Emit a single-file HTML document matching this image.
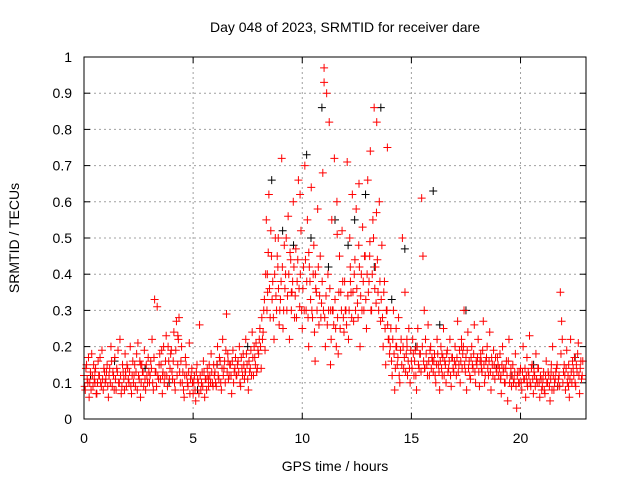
<!DOCTYPE html>
<html><head><meta charset="utf-8">
<style>
html,body{margin:0;padding:0;background:#fff;}
svg{display:block;font-family:"Liberation Sans",sans-serif;}
</style></head>
<body>
<svg id="chart" width="640" height="480" viewBox="0 0 640 480">
<text x="345" y="32" font-size="14" text-anchor="middle">Day 048 of 2023, SRMTID for receiver dare</text>
<text x="335" y="471" font-size="14" text-anchor="middle">GPS time / hours</text>
<text x="19" y="238" font-size="14" text-anchor="middle" transform="rotate(-90 19 238)">SRMTID / TECUs</text>
<g id="grid"></g>
<g id="ticks"></g>
<g id="black"></g>
<g id="red"></g>
<rect x="84" y="57" width="502" height="362" fill="none" stroke="#000" stroke-width="1"/>
</svg>
<script>
const xTicks=[0,5,10,15,20];
const yTicks=[0,0.1,0.2,0.3,0.4,0.5,0.6,0.7,0.8,0.9,1];
const yTickLabels=["0","0.1","0.2","0.3","0.4","0.5","0.6","0.7","0.8","0.9","1"];
const redStep=1/17;
const redValues=[
0.12,0.08,0.15,0.1,0.06,0.13,0.18,0.09,0.11,0.14,0.07,0.16,0.12,0.1,0.19,0.08,0.13,
0.11,0.15,0.06,0.14,0.2,0.09,0.12,0.17,0.08,0.13,0.1,0.22,0.07,0.15,0.11,0.18,0.09,
0.14,0.1,0.2,0.07,0.16,0.12,0.09,0.18,0.21,0.11,0.06,0.15,0.13,0.19,0.08,0.12,0.17,
0.1,0.16,0.22,0.08,0.33,0.13,0.31,0.11,0.18,0.15,0.07,0.2,0.12,0.23,0.09,0.16,0.14,
0.19,0.11,0.24,0.08,0.27,0.15,0.28,0.1,0.2,0.13,0.06,0.17,0.12,0.09,0.21,0.11,0.14,
0.07,0.12,0.05,0.15,0.1,0.26,0.08,0.13,0.16,0.06,0.11,0.14,0.09,0.12,0.18,0.1,0.15,
0.13,0.09,0.2,0.11,0.16,0.08,0.22,0.14,0.1,0.29,0.18,0.12,0.15,0.07,0.19,0.13,0.17,
0.12,0.16,0.2,0.09,0.14,0.18,0.11,0.22,0.15,0.08,0.13,0.19,0.24,0.12,0.17,0.21,0.14,
0.18,0.25,0.14,0.22,0.3,0.19,0.55,0.35,0.62,0.28,0.45,0.38,0.22,0.5,0.3,0.42,0.26,
0.33,0.72,0.25,0.48,0.4,0.3,0.56,0.22,0.44,0.35,0.6,0.28,0.47,0.38,0.66,0.31,0.52,
0.25,0.42,0.7,0.3,0.55,0.2,0.38,0.64,0.28,0.48,0.16,0.35,0.58,0.26,0.45,0.32,0.68,
0.97,0.2,0.9,0.4,0.82,0.15,0.55,0.3,0.72,0.25,0.6,0.18,0.45,0.35,0.52,0.28,0.38,
0.3,0.71,0.22,0.5,0.35,0.62,0.27,0.44,0.58,0.32,0.48,0.2,0.4,0.53,0.3,0.45,0.25,
0.66,0.38,0.74,0.3,0.55,0.86,0.42,0.82,0.35,0.6,0.27,0.48,0.2,0.38,0.15,0.3,0.22,
0.18,0.25,0.12,0.3,0.08,0.2,0.15,0.28,0.1,0.22,0.5,0.14,0.35,0.18,0.12,0.25,0.1,
0.16,0.22,0.12,0.19,0.08,0.25,0.14,0.18,0.61,0.45,0.3,0.22,0.15,0.26,0.12,0.2,0.17,
0.13,0.18,0.1,0.22,0.15,0.08,0.2,0.12,0.25,0.16,0.1,0.19,0.14,0.22,0.09,0.17,0.13,
0.2,0.12,0.27,0.15,0.1,0.22,0.18,0.3,0.13,0.08,0.24,0.16,0.11,0.2,0.14,0.26,0.1,
0.15,0.22,0.09,0.18,0.13,0.27,0.1,0.16,0.2,0.12,0.24,0.08,0.15,0.19,0.11,0.14,0.17,
0.12,0.18,0.07,0.2,0.14,0.1,0.16,0.05,0.22,0.12,0.09,0.15,0.11,0.18,0.03,0.13,0.1,
0.14,0.08,0.2,0.11,0.06,0.17,0.13,0.23,0.09,0.15,0.07,0.12,0.18,0.1,0.14,0.06,0.11,
0.09,0.13,0.07,0.16,0.1,0.12,0.05,0.15,0.2,0.08,0.11,0.14,0.09,0.12,0.35,0.27,0.1,
0.15,0.08,0.19,0.12,0.06,0.22,0.1,0.14,0.17,0.09,0.13,0.21,0.07,0.16,0.12];
const redValues2=[
0.09,0.14,0.11,0.17,0.1,0.08,0.12,0.15,0.13,0.07,0.1,0.12,0.17,0.09,0.11,0.14,0.1,
0.13,0.09,0.12,0.1,0.16,0.13,0.08,0.11,0.14,0.19,0.1,0.12,0.09,0.13,0.08,0.12,0.15,
0.11,0.13,0.09,0.12,0.1,0.15,0.13,0.08,0.12,0.16,0.1,0.13,0.09,0.11,0.15,0.1,0.13,
0.12,0.14,0.1,0.17,0.13,0.09,0.12,0.15,0.11,0.19,0.13,0.1,0.16,0.12,0.2,0.11,0.18,
0.13,0.16,0.1,0.19,0.12,0.22,0.13,0.16,0.1,0.08,0.12,0.15,0.1,0.13,0.07,0.12,0.1,
0.1,0.08,0.13,0.11,0.07,0.12,0.1,0.09,0.13,0.11,0.08,0.12,0.15,0.1,0.13,0.09,0.12,
0.1,0.15,0.12,0.17,0.1,0.14,0.12,0.16,0.19,0.13,0.11,0.15,0.12,0.16,0.1,0.14,0.12,
0.15,0.13,0.1,0.17,0.12,0.15,0.13,0.18,0.11,0.16,0.14,0.12,0.17,0.2,0.15,0.13,0.19,
0.22,0.2,0.28,0.24,0.33,0.4,0.3,0.46,0.36,0.52,0.33,0.28,0.4,0.34,0.45,0.36,0.3,
0.38,0.42,0.3,0.36,0.5,0.34,0.4,0.46,0.3,0.38,0.42,0.34,0.28,0.44,0.36,0.4,0.3,
0.36,0.3,0.44,0.38,0.28,0.42,0.33,0.3,0.4,0.24,0.36,0.3,0.42,0.34,0.28,0.38,0.3,
0.28,0.34,0.26,0.3,0.36,0.22,0.3,0.26,0.33,0.2,0.28,0.35,0.25,0.3,0.38,0.24,0.3,
0.26,0.34,0.3,0.38,0.28,0.35,0.4,0.3,0.36,0.28,0.42,0.34,0.3,0.38,0.45,0.33,0.4,
0.35,0.45,0.3,0.4,0.5,0.36,0.32,0.44,0.3,0.38,0.33,0.28,0.35,0.25,0.3,0.26,0.22,
0.2,0.16,0.22,0.18,0.14,0.2,0.17,0.12,0.19,0.15,0.2,0.17,0.13,0.22,0.16,0.14,0.19,
0.14,0.18,0.16,0.12,0.2,0.15,0.18,0.13,0.2,0.16,0.14,0.18,0.12,0.16,0.19,0.14,0.16,
0.16,0.12,0.15,0.18,0.13,0.16,0.14,0.17,0.12,0.15,0.18,0.13,0.16,0.12,0.17,0.14,0.16,
0.15,0.17,0.13,0.19,0.16,0.14,0.2,0.15,0.17,0.19,0.14,0.12,0.17,0.15,0.18,0.13,0.16,
0.17,0.13,0.16,0.14,0.19,0.15,0.12,0.17,0.14,0.16,0.13,0.17,0.12,0.15,0.17,0.13,0.15,
0.14,0.11,0.15,0.13,0.1,0.14,0.12,0.16,0.1,0.14,0.12,0.1,0.13,0.09,0.12,0.1,0.13,
0.1,0.13,0.11,0.14,0.12,0.09,0.12,0.1,0.14,0.11,0.13,0.09,0.11,0.14,0.1,0.12,0.08,
0.11,0.08,0.12,0.1,0.13,0.09,0.11,0.08,0.12,0.1,0.13,0.15,0.11,0.09,0.18,0.22,0.13,
0.12,0.14,0.1,0.15,0.11,0.13,0.16,0.12,0.1,0.15,0.18,0.12,0.14,0.11,0.16];
const redExtraTimes=[0.5,1.9,2.6,3.6,4.3,5.7,6.6,7.4,8.4,8.9,9.5,9.9,10.3,10.6,11.0,11.3,11.6,12.2,12.6,13.1,13.4,13.9,14.3,14.8,15.6,16.4,17.3,18.2,19.1,20.3,21.4,22.2];
const redExtraValues=[0.1,0.13,0.15,0.12,0.23,0.11,0.16,0.13,0.4,0.5,0.35,0.62,0.46,0.4,0.93,0.3,0.51,0.42,0.65,0.49,0.57,0.75,0.25,0.2,0.14,0.18,0.2,0.16,0.12,0.1,0.13,0.09];
const blackTimes=[0.3,1.4,2.8,3.9,5.2,6.1,7.5,8.6,9.1,9.6,10.2,10.4,10.9,11.2,11.5,12.1,12.4,12.9,13.3,13.6,14.1,14.7,15.2,16.0,16.3,17.5,18.9,19.6,20.6,21.7,22.5];
const blackValues=[0.12,0.16,0.14,0.1,0.08,0.15,0.2,0.66,0.52,0.48,0.73,0.5,0.86,0.42,0.55,0.48,0.55,0.62,0.42,0.86,0.33,0.47,0.2,0.63,0.26,0.3,0.14,0.12,0.15,0.09,0.17];

const X0=84,X1=586,Y0=419,Y1=57,XMAX=23;
function xs(t){return X0+(X1-X0)*t/XMAX;}
function ys(v){return Y0-(Y0-Y1)*v;}
const NS="http://www.w3.org/2000/svg";
function mk(tag,attrs,parent){const e=document.createElementNS(NS,tag);for(const k in attrs)e.setAttribute(k,attrs[k]);parent.appendChild(e);return e;}
const grid=document.getElementById('grid'),ticks=document.getElementById('ticks');
xTicks.forEach(t=>{
  const x=xs(t);
  if(t>0){const g=mk('line',{x1:x,x2:x,y1:Y1,y2:Y0,stroke:'#a0a0a0','stroke-dasharray':'2,3','stroke-width':1},grid);
  
  }
  mk('line',{x1:x,x2:x,y1:Y0,y2:Y0-6,stroke:'#000'},ticks);
  mk('line',{x1:x,x2:x,y1:Y1,y2:Y1+6,stroke:'#000'},ticks);
  const l=mk('text',{x:x,y:Y0+24,'font-size':14,'text-anchor':'middle'},ticks);
  l.textContent=String(t);
  
  
});
yTicks.forEach((v,i)=>{
  const y=ys(v);
  if(v>0&&v<1){const g=mk('line',{x1:X0,x2:X1,y1:y,y2:y,stroke:'#a0a0a0','stroke-dasharray':'2,3','stroke-width':1},grid);
  
  }
  mk('line',{x1:X0,x2:X0+6,y1:y,y2:y,stroke:'#000'},ticks);
  mk('line',{x1:X1,x2:X1-6,y1:y,y2:y,stroke:'#000'},ticks);
  const l=mk('text',{x:72,y:y+5,'font-size':14,'text-anchor':'end'},ticks);
  l.textContent=yTickLabels[i];
  
  
});
function plus(parent,t,v,color,name){
  const x=xs(t),y=ys(v);
  const p=mk('path',{d:`M${x-4},${y}H${x+4}M${x},${y-4}V${y+4}`,stroke:color,'stroke-width':1,fill:'none'},parent);
  
  
}
const bg=document.getElementById('black'),rg=document.getElementById('red');
blackTimes.forEach((t,i)=>plus(bg,t,blackValues[i],'#000','black-point'));
redValues.forEach((v,i)=>plus(rg,i*redStep,v,'#ff0000','red-point'));
redValues2.forEach((v,i)=>plus(rg,(i+0.5)*redStep,v,'#ff0000','red-point'));
redExtraTimes.forEach((t,i)=>plus(rg,t,redExtraValues[i],'#ff0000','red-point'));
</script>
</body></html>
